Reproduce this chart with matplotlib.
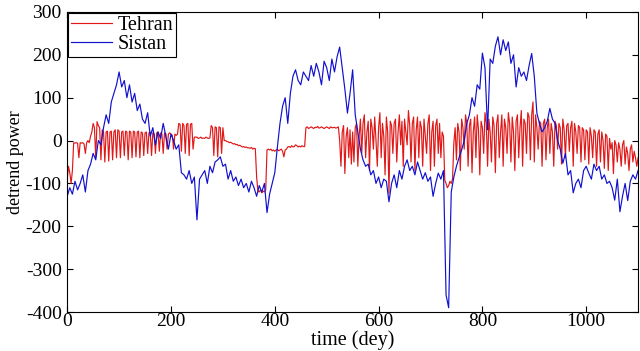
import numpy as np
import matplotlib
matplotlib.use('Agg')
import matplotlib.pyplot as plt

plt.rcParams['font.family'] = ['Liberation Serif', 'DejaVu Serif']
plt.rcParams['axes.unicode_minus'] = False

# Sistan: one value every 5 days
days_s = np.arange(0, 1101, 5)
# Tehran: one value every 2.5 days (weekly dips)
days_t = np.arange(0, 1100.1, 2.5)

sistan = [
    -130, -110, -125, -95, -115, -100, -80, -120, -70, -55,
    -30, -45, 0, -10, 30, 60, 40, 90, 110, 130,
    160, 125, 140, 100, 130, 90, 110, 70, 85, 50,
    40, 65, 10, 30, -10, 20, 5, 40, 10, -20,
    15, 0, -20, -10, -75, -80, -90, -70, -100, -85,
    -185, -90, -80, -70, -100, -60, -75, -50, -45, -38,
    -60, -55, -90, -70, -95, -85, -105, -90, -110, -100,
    -120, -95, -110, -130, -105, -120, -100, -168, -125, -100,
    -75, -15, 40, 80, 100, 40, 110, 150, 165, 140,
    130, 160, 150, 140, 175, 150, 180, 160, 130, 185,
    170, 140, 190, 160, 195, 218, 170, 120, 64, 110,
    165, 60, 20, -20, -45, -60, -55, -80, -70, -100,
    -85, -110, -90, -95, -143, -100, -80, -110, -70, -90,
    -60, -45, -70, -60, -80, -50, -70, -90, -75, -95,
    -85, -130, -100, -76, -90, -70, -360, -390, -120, -85,
    -60, -40, -22, 0, 40, 60, 100, 80, 130, 120,
    204, 170, 25, 190, 180, 220, 242, 200, 235, 210,
    230, 180, 200, 125, 170, 150, 160, 140, 175, 203,
    150, 64, 40, 20, 30, 45, 75, 50, 40, 0,
    -20, -53, -30, -80, -70, -122, -100, -90, -110, -70,
    -60, -76, -90, -55, -70, -60, -90, -80, -100, -95,
    -110, -139, -90, -166, -130, -100, -140, -95, -80, -90,
    -70,
]

tehran = [
    -90, -60, -75, -100, -70, -5, -6, -5, -6, -40, -5, -6, -5, -8, -30, -5, 0, -5, 10, 20,
    40, 30, -40, 44, 35, 30, -45, 25, 20, -50, 20, 22, -48, 20, 22, -45, 20, 25, -40, 25,
    22, -40, 20, 22, -35, 22, 20, -45, 22, 20, -40, 22, 20, -38, 20, 22, -40, 20, 18, -35,
    18, 20, -30, 18, 20, -35, 18, 16, -30, 18, 20, -25, 18, 15, -30, 18, 16, -20, 15, 18,
    15, 12, -20, 15, 12, 15, 40, 38, -25, 40, 35, -30, 38, 40, -35, 38, 40, -20, 8, 8,
    8, 5, 6, 8, 5, 6, 5, 8, 6, 5, 6, 35, 30, -35, 32, 30, -38, 32, 30, -30,
    30, 0, 0, -2, -3, -5, -4, -6, -8, -7, -10, -9, -12, -11, -13, -15, -14, -16, -15, -17,
    -17, -18, -16, -20, -18, -19, -85, -118, -120, -115, -122, -118, -120, -115, -22, -20, -22, -20, -24, -22,
    -25, -22, -20, -24, -22, -20, -25, -38, -22, -20, -15, -14, -16, -12, -15, -14, -10, -12, -15, -13,
    -15, -12, -14, -14, 30, 32, 28, 30, 32, 30, 28, 31, 30, 33, 29, 30, 32, 30, 28, 30,
    32, 30, 28, 32, 30, 30, 31, 29, 30, 32, 0, -60, 20, 35, -77, 10, 30, -40, 25, -55,
    20, -50, 30, 40, -60, 10, 50, -30, 40, 60, -40, 20, 45, -70, 50, 30, -20, 55, 0, -60,
    30, 65, -40, 40, 10, -80, 55, 20, -123, 45, 35, -30, 40, 50, -50, 20, 60, -10, 45, -60,
    50, 20, -10, 70, 35, -50, 40, 55, -70, 25, 55, -40, 45, 30, -60, 50, 10, -30, 40, 60,
    -70, 20, 45, -60, 35, 50, -30, 40, -40, 20, 10, -92, -100, -110, -105, -95, -100, -90, -5, 30,
    -45, 40, 20, -70, 50, 30, -20, 60, 40, -60, 35, 50, -75, 20, 55, -40, 60, 25, -80, 45,
    30, -30, 65, 40, -60, 50, 20, -50, 55, 35, -75, 40, 60, -40, 20, 60, -60, 50, 30, -30,
    65, 40, -50, 55, 20, -70, 45, 60, -40, 30, 70, -60, 50, 40, -30, 65, 55, -45, 60, 90,
    -50, 60, 30, -20, 45, 40, -60, 40, 50, -45, 30, 50, -30, 40, 20, -60, 45, 35, -20, 40,
    30, -55, 50, 25, -40, 35, 40, -25, 30, 45, -60, 40, 20, -30, 35, 30, -50, 30, 25, -45,
    25, 20, -55, 30, 10, -40, 25, 20, -60, 15, 25, -50, 20, 0, -65, 15, 10, -70, 5, -20,
    -5, -77, 0, -10, -50, -5, -20, -60, -10, 0, -55, -15, -30, -70, -20, -10, -50, -25, -40, -60,
    -40,
]

fig = plt.figure(figsize=(6.4, 3.51), dpi=100)
ax = fig.add_axes([0.105, 0.111, 0.892, 0.855])

ax.plot(days_t, tehran, color='#e01818', lw=0.85, label='Tehran')
ax.plot(days_s, sistan, color='#1010d0', lw=0.85, label='Sistan')

ax.set_xlim(0, 1100)
ax.set_ylim(-400, 300)
ax.set_xticks(range(0, 1001, 200))
ax.set_yticks(range(-400, 301, 100))
ax.tick_params(direction='in', top=True, right=True, labelsize=14, length=4)
ax.tick_params(axis='x', pad=1)
ax.tick_params(axis='y', pad=4)
ax.set_xlabel('time (dey)', fontsize=14.5, labelpad=0)
ax.set_ylabel('detrend power', fontsize=13, labelpad=1)

leg = ax.legend(loc='upper left', fontsize=14.5, fancybox=False, framealpha=1,
                edgecolor='black', borderpad=0.15, handlelength=2.0,
                handletextpad=0.3, labelspacing=0.0, borderaxespad=0.05)
leg.get_frame().set_linewidth(0.8)

fig.savefig('out.png', dpi=100)
